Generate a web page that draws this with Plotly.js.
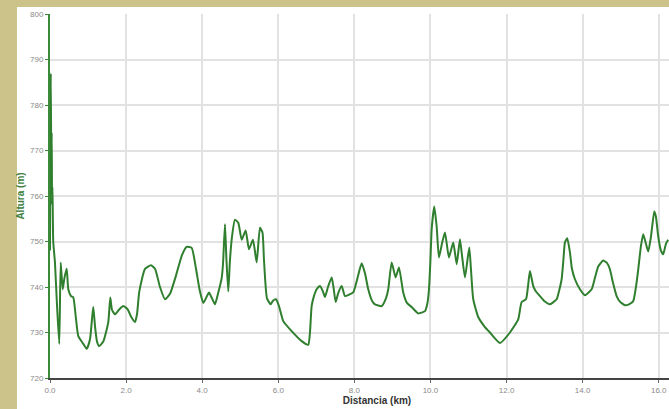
<!DOCTYPE html>
<html>
<head>
<meta charset="utf-8">
<script src="https://cdn.plot.ly/plotly-3.0.1.min.js"></script>
<style>
html,body{margin:0;padding:0;overflow:hidden;background:#cbc38a;}
#chart{width:706px;height:409px;}
</style>
</head>
<body>
<div id="chart"></div>
<script>
const distanciaKm = [
  0.00, 0.02, 0.035, 0.045, 0.055, 0.065, 0.085, 0.13, 0.184, 0.244,
  0.281, 0.334, 0.38, 0.439, 0.481, 0.552, 0.612, 0.683, 0.744, 0.875,
  0.965, 1.051, 1.104, 1.138, 1.183, 1.235, 1.288, 1.401, 1.532, 1.585,
  1.629, 1.708, 1.813, 1.926, 2.042, 2.129, 2.234, 2.287, 2.347, 2.497,
  2.654, 2.76, 2.891, 3.022, 3.154, 3.311, 3.469, 3.593, 3.724, 3.837,
  3.942, 4.029, 4.126, 4.179, 4.258, 4.336, 4.415, 4.513, 4.547, 4.599,
  4.638, 4.686, 4.731, 4.783, 4.862, 4.949, 5.038, 5.143, 5.23, 5.335,
  5.432, 5.519, 5.585, 5.624, 5.703, 5.8, 5.861, 5.94, 6.018, 6.131,
  6.352, 6.615, 6.788, 6.833, 6.877, 6.938, 7.009, 7.096, 7.175, 7.227,
  7.306, 7.403, 7.451, 7.509, 7.569, 7.666, 7.753, 7.858, 7.971, 8.068,
  8.192, 8.279, 8.365, 8.463, 8.541, 8.717, 8.83, 8.891, 8.98, 9.085,
  9.172, 9.285, 9.382, 9.506, 9.679, 9.855, 9.921, 9.961, 10.0, 10.032,
  10.1, 10.163, 10.223, 10.302, 10.381, 10.486, 10.599, 10.689, 10.775, 10.828,
  10.907, 11.02, 11.064, 11.125, 11.256, 11.432, 11.564, 11.827, 12.089, 12.307,
  12.397, 12.51, 12.562, 12.615, 12.702, 12.773, 12.878, 13.009, 13.141, 13.317,
  13.377, 13.448, 13.495, 13.535, 13.596, 13.666, 13.719, 13.798, 13.929, 14.06,
  14.236, 14.323, 14.41, 14.541, 14.638, 14.717, 14.796, 14.893, 14.98, 15.112,
  15.217, 15.33, 15.401, 15.462, 15.532, 15.593, 15.664, 15.724, 15.795, 15.882,
  15.926, 15.987, 16.058, 16.118, 16.189, 16.249
];
const alturaM = [
  748, 787, 765, 774, 758, 762, 750, 745.4, 736, 727.5,
  745.4, 739.5, 742, 744, 739.5, 738, 737.7, 733, 729.2, 727.5,
  726.4, 728.5, 733, 735.6, 731.4, 728, 727, 728, 732.3, 737.7,
  735, 734, 735, 735.8, 735.1, 733.5, 732.3, 734, 739, 744,
  744.8, 744, 740, 737.3, 738.5, 742.5, 747, 748.8, 748.6, 744,
  739, 736.5, 738, 738.8, 737.5, 736.2, 738.5, 742, 745, 753.8,
  746, 739, 746, 751, 754.8, 754.1, 750.4, 752.4, 748.3, 750.4,
  745.4, 753, 752, 746, 737.5, 736.2, 737, 737.3, 735.8, 732.5,
  730.3, 728.1, 727.3, 730, 735.8, 738, 739.5, 740.2, 739, 737.8,
  740, 742.1, 740, 736.7, 738.5, 740.2, 738, 738.3, 738.8, 741.5,
  745.2, 743, 739.5, 737, 736.2, 735.8, 737.5, 739.5, 745.4, 742.1,
  744.3, 738.8, 736.5, 735.6, 734.2, 734.7, 736.5, 739.5, 746, 752.7,
  757.7, 753.3, 746.5, 749.5, 752, 746.5, 749.8, 745, 750.5, 747,
  742.1, 748.7, 744, 737.3, 733.4, 731.2, 730, 727.7, 730, 732.9,
  736.7, 737.3, 740, 743.5, 740.2, 739, 738, 736.8, 736.2, 737.3,
  739, 741.7, 746, 749.8, 750.7, 747.6, 744, 741.7, 739.5, 738.2,
  739.5, 742, 744.5, 745.8, 745.3, 743.9, 741, 738, 736.8, 736,
  736.2, 736.9, 740, 743.9, 749, 751.6, 749.5, 747.8, 751, 756.6,
  755.5, 751.1, 748, 747.2, 749.5, 750.4
];
const xTickVals = [0, 2, 4, 6, 8, 10, 12, 14, 16];
const yTickVals = [720, 730, 740, 750, 760, 770, 780, 790, 800];

const trace = {
  x: distanciaKm,
  y: alturaM,
  type: 'scatter',
  mode: 'lines',
  line: {color: '#2f7f2f', width: 2, shape: 'spline', smoothing: 0.5},
  hoverinfo: 'x+y'
};

const layout = {
  width: 706,
  height: 409,
  margin: {l: 50, r: 2, t: 14, b: 31, pad: 0},
  paper_bgcolor: '#cbc38a',
  plot_bgcolor: '#ffffff',
  showlegend: false,
  font: {family: 'Liberation Sans, Arial, sans-serif', color: '#888888', size: 8},
  shapes: [{
    type: 'rect', xref: 'paper', yref: 'paper',
    x0: -0.0505, x1: 1.02, y0: -0.12, y1: 1.0192,
    fillcolor: '#ffffff', line: {width: 0}, layer: 'below'
  }],
  xaxis: {
    range: [0, 17.19],
    tickvals: xTickVals,
    tickformat: '.1f',
    showgrid: true,
    gridcolor: '#e2e2e2',
    gridwidth: 2,
    zeroline: false,
    showline: true,
    linecolor: '#444444',
    linewidth: 2,
    ticks: 'outside',
    ticklen: 3,
    tickcolor: '#666666',
    tickfont: {size: 8, color: '#8a8a8a'},
    title: {text: 'Distancia (km)', font: {size: 10, color: '#333333', family: 'Liberation Sans, Arial, sans-serif', weight: 'bold'}, standoff: 2},
    automargin: false,
    fixedrange: true
  },
  yaxis: {
    range: [720, 800],
    tickvals: yTickVals,
    showgrid: true,
    gridcolor: '#e2e2e2',
    gridwidth: 2,
    zeroline: false,
    showline: true,
    linecolor: '#3a8a3a',
    linewidth: 2,
    ticks: 'outside',
    ticklen: 3,
    tickcolor: '#3a8a3a',
    tickfont: {size: 8, color: '#8a8a8a'},
    title: {text: 'Altura (m)', font: {size: 10, color: '#3f7f3f', family: 'Liberation Sans, Arial, sans-serif', weight: 'bold'}, standoff: 4},
    automargin: false,
    fixedrange: true
  }
};

Plotly.newPlot('chart', [trace], layout, {displayModeBar: false, staticPlot: true});
</script>
</body>
</html>
